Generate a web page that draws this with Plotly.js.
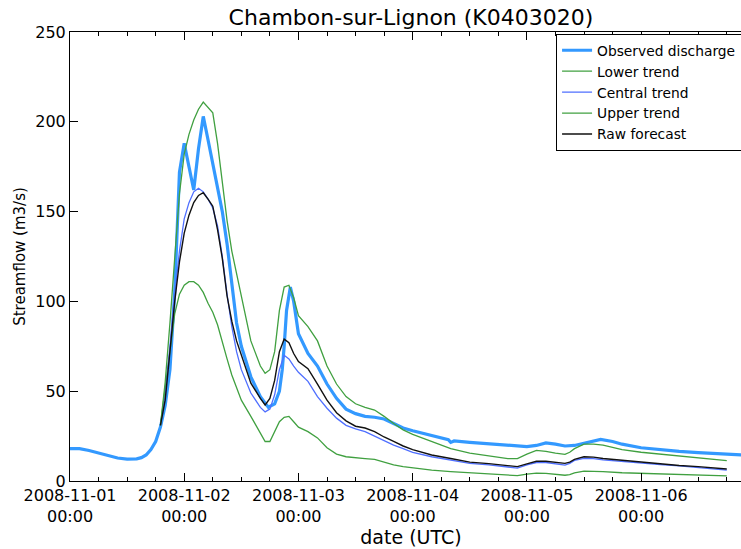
<!DOCTYPE html>
<html>
<head>
<meta charset="utf-8">
<script src="https://cdn.plot.ly/plotly-3.0.1.min.js"></script>
<style>
html, body { margin: 0; padding: 0; overflow: hidden; background: #fff; }
#chart { width: 752px; height: 549px; }
</style>
</head>
<body>
<div id="chart"></div>
<script>
// Hours after 2008-11-01 00:00 UTC
var obsHours = [0, 2, 4, 6, 8, 10, 12, 14, 15, 16, 17, 18, 19, 20, 21, 22, 23, 24, 25, 26, 27, 28, 29, 30, 31, 32, 33, 34, 35, 36, 38, 40, 41, 41.7, 42, 43, 44, 44.6, 45, 45.5, 46.3, 47, 48, 49, 50, 52, 54, 56, 58, 60, 62, 64, 66, 68, 70, 72, 76, 79.5, 80, 80.7, 84, 88, 92, 96, 98, 100, 102, 104, 106, 108, 110, 111.5, 114, 116, 120, 124, 128, 132, 136, 141.5];
var observed = [18, 18, 17, 15.5, 14, 12.8, 12.2, 12.3, 13, 14.5, 17.5, 22, 30, 42, 62, 105, 172, 188, 175, 162, 185, 203, 190, 177, 165, 150, 132, 108, 88, 75, 58, 47, 43, 41, 41.5, 43, 50, 62, 75, 95, 108, 100, 82, 76, 71, 64, 54, 46, 40, 37.5, 36, 35.5, 34.5, 32, 29.5, 28, 25.5, 23, 21.5, 22.3, 21.5, 20.8, 20.2, 19.2, 19.8, 21.2, 20.5, 19.5, 19.8, 21, 22.5, 23.2, 22, 20.5, 18.5, 17.3, 16.5, 15.8, 15.2, 14.5];

var fcHours = [19, 20, 21, 22, 23, 24, 25, 26, 27, 28, 29, 30, 31, 32, 33, 34, 35, 36, 38, 40, 41, 42, 43, 44, 45, 46, 47, 48, 50, 52, 54, 56, 58, 60, 62, 64, 66, 68, 70, 72, 76, 80, 84, 88, 92, 94, 96, 98, 100, 102, 104, 105, 106, 108, 110, 112, 116, 120, 124, 128, 132, 138];
var lowerTrend = [31, 52, 75, 93, 104, 109, 111, 111, 109, 105, 99, 94, 87, 77, 68, 59, 52, 45, 36, 27, 22, 22, 28, 33, 35.5, 36, 33, 30, 27.5, 24, 18.5, 15, 13.5, 12.8, 12.5, 12, 10.5, 9, 8, 7.2, 6, 5.2, 4.5, 3.9, 3.2, 3, 3.8, 4.4, 4.2, 3.8, 3.2, 3.5, 4.5, 5.5, 5.5, 5.2, 4.6, 4.2, 3.8, 3.5, 3.1, 2.8];
var centralTrend = [31, 47, 75, 104, 128, 146, 155, 161, 163, 161, 157, 152, 142, 125, 104, 86, 72, 62, 49, 41, 38.5, 40, 48, 62, 70, 68, 64, 60.5, 55.5, 47, 40.5, 35, 31, 29, 27.5, 25, 22.5, 20, 18, 16, 13.5, 11.5, 9.8, 9, 8, 7.2, 9, 10.3, 10.3, 9.5, 8.9, 9.8, 11.5, 12.6, 12.5, 11.8, 10.8, 10, 9.2, 8.4, 7.4, 6.1];
var upperTrend = [31, 55, 88, 122, 160, 182, 193, 201, 207, 211, 208, 205, 188, 166, 145, 128, 115, 103, 78, 64, 60, 62, 72, 95, 108, 109, 102, 92, 86, 78, 64, 54, 47, 43, 41, 39.5, 36, 32, 28.5, 26, 22, 18, 15.5, 14, 12.5, 12.5, 15, 17, 16.5, 15.5, 14.8, 16, 18, 20.5, 20.5, 20, 17.5, 16, 15, 14, 12.8, 11.3];
var rawForecast = [31, 45, 72, 100, 122, 138, 148, 155, 159, 160.5, 157, 153, 140, 124, 103, 89, 78, 70, 54.5, 46, 42.3, 46, 56, 72, 79, 77, 71, 66.5, 62.5, 54, 45, 38, 33.5, 30.5, 29.5, 27.5, 24.5, 22, 19.5, 17.5, 14.5, 12.5, 10.5, 9.7, 8.8, 8, 9.5, 11, 11, 10.3, 9.8, 10.5, 12, 13.5, 13.3, 12.5, 11.5, 10.5, 9.5, 8.6, 8, 6.7];

var tickVals = ['2008-11-01 00:00', '2008-11-02 00:00', '2008-11-03 00:00', '2008-11-04 00:00', '2008-11-05 00:00', '2008-11-06 00:00'];
var tickText = ['2008-11-01<br>00:00', '2008-11-02<br>00:00', '2008-11-03<br>00:00', '2008-11-04<br>00:00', '2008-11-05<br>00:00', '2008-11-06<br>00:00'];

var base = Date.UTC(2008, 10, 1, 0, 0, 0);
function toDate(h) {
  return new Date(base + h * 3600000).toISOString().slice(0, 19).replace('T', ' ');
}
var obsX = obsHours.map(toDate);
var fcX = fcHours.map(toDate);

var green = '#40a040';
var traces = [
  {x: obsX, y: observed, name: 'Observed discharge', mode: 'lines', line: {color: '#3399ff', width: 3.2}},
  {x: fcX, y: lowerTrend, name: 'Lower trend', mode: 'lines', line: {color: green, width: 1.3}},
  {x: fcX, y: centralTrend, name: 'Central trend', mode: 'lines', line: {color: '#4f6fff', width: 1.3}},
  {x: fcX, y: upperTrend, name: 'Upper trend', mode: 'lines', line: {color: green, width: 1.3}},
  {x: fcX, y: rawForecast, name: 'Raw forecast', mode: 'lines', line: {color: '#111111', width: 1.4}}
];

var layout = {
  width: 752, height: 549,
  margin: {l: 70, r: 0, t: 32, b: 68, pad: 0},
  paper_bgcolor: '#fff', plot_bgcolor: '#fff',
  font: {family: 'DejaVu Sans', size: 14, color: '#000'},
  title: {text: 'Chambon-sur-Lignon (K0403020)', font: {family: 'DejaVu Sans', size: 22, color: '#000'},
          x: 0.5, xref: 'paper', xanchor: 'center', y: 0.969, yref: 'container', yanchor: 'middle'},
  xaxis: {
    type: 'date',
    range: ['2008-11-01 00:00', toDate(143.3)],
    tickmode: 'array', tickvals: tickVals, ticktext: tickText,
    ticks: 'inside', ticklen: 8, tickwidth: 1, tickcolor: '#000',
    minor: {dtick: 6 * 3600000, ticks: 'inside', ticklen: 4, tickwidth: 1, tickcolor: '#000', showgrid: false},
    showline: true, linecolor: '#000', linewidth: 1, mirror: 'allticks',
    showgrid: false, zeroline: false,
    tickfont: {family: 'DejaVu Sans', size: 16, color: '#000'},
    title: {text: 'date (UTC)', font: {family: 'DejaVu Sans', size: 19, color: '#000'}, standoff: 4}
  },
  yaxis: {
    range: [0, 250], dtick: 50, tick0: 0,
    ticks: 'inside', ticklen: 8, tickwidth: 1, tickcolor: '#000',
    showline: true, linecolor: '#000', linewidth: 1, mirror: 'allticks',
    showgrid: false, zeroline: false,
    tickfont: {family: 'DejaVu Sans', size: 16, color: '#000'},
    title: {text: 'Streamflow (m3/s)', font: {family: 'DejaVu Sans', size: 15, color: '#000'}, standoff: 6}
  },
  legend: {
    x: 0.7127, xanchor: 'left', y: 0.996, yanchor: 'top',
    bgcolor: '#fff', bordercolor: '#000', borderwidth: 1,
    font: {family: 'DejaVu Sans', size: 13.8, color: '#000'},
    tracegroupgap: 0
  },
  showlegend: true
};

Plotly.newPlot('chart', traces, layout, {staticPlot: true, displayModeBar: false});
</script>
</body>
</html>
